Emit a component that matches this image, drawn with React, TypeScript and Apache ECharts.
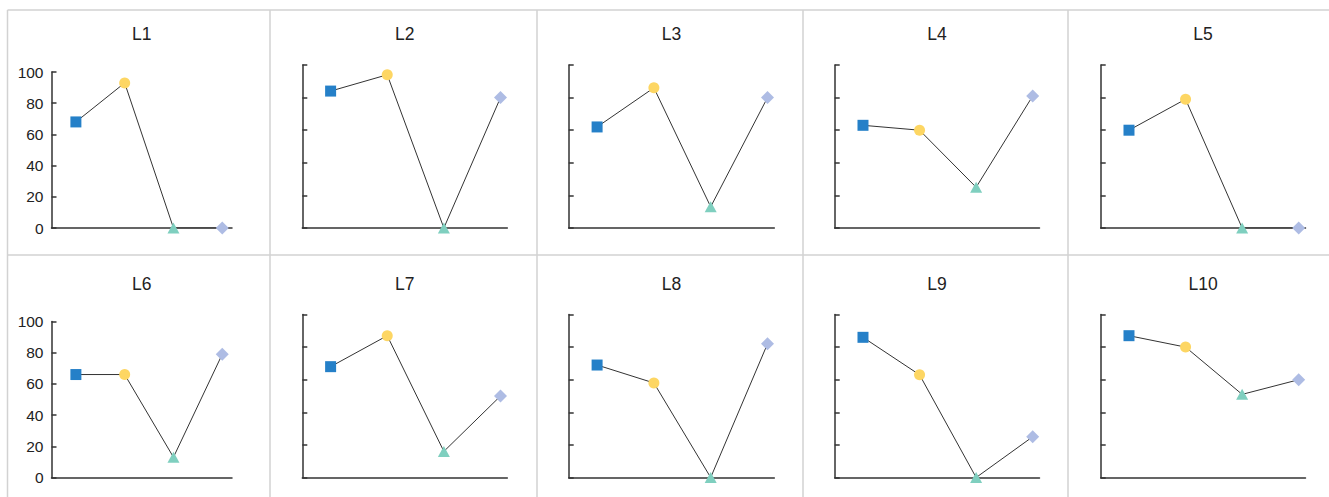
import React, { useEffect, useRef } from "react";
import * as echarts from "echarts";

// ---- data ----
const panelNames = ["L1", "L2", "L3", "L4", "L5", "L6", "L7", "L8", "L9", "L10"];
const categoryIndex = [0, 1, 2, 3];
const L1 = [68, 93, 0, 0];
const L2 = [84, 94, 0, 80];
const L3 = [62, 86, 13, 80];
const L4 = [63, 60, 25, 81];
const L5 = [60, 79, 0, 0];
const L6 = [66, 66, 13, 79];
const L7 = [68, 87, 16, 50];
const L8 = [69, 58, 0, 82];
const L9 = [86, 63, 0, 25];
const L10 = [87, 80, 51, 60];
const panelValues = [L1, L2, L3, L4, L5, L6, L7, L8, L9, L10];
const yTicks = [0, 20, 40, 60, 80, 100];

const markerSymbols = ["rect", "circle", "triangle", "diamond"];
const markerColors = ["#2580c8", "#fdd663", "#7fcfbf", "#aebce4"];
const markerSizes: any[] = [11, 11, [12, 11], 13];

const FONT = "'Liberation Sans', Arial, Helvetica, sans-serif";

// layout (pixels)
const colLeft = [51.5, 302.3, 568.7, 834.7, 1100.7];
const colRight = [232, 507.3, 774.3, 1039.5, 1305.5];
const colXMax = [3.2, 3.12, 3.12, 3.12, 3.12];
const rowOffset = 249.5;
const zeroY = 228;
const topFirstCol = 72;
const topOtherCols = 65;
const sepX = [7.5, 270, 537, 803, 1068];
const sepY = [10, 255];

export default function App() {
  const ref = useRef<HTMLDivElement>(null);
  useEffect(() => {
    if (!ref.current) return;
    const chart = echarts.init(ref.current, null, { renderer: "svg" });
    const grids: any[] = [];
    const xAxes: any[] = [];
    const yAxes: any[] = [];
    const series: any[] = [];
    const titles: any[] = [];
    panelNames.forEach((name, i) => {
      const row = Math.floor(i / 5);
      const col = i % 5;
      const top = (col === 0 ? topFirstCol : topOtherCols) + row * rowOffset;
      const bottom = zeroY + row * rowOffset;
      grids.push({
        left: colLeft[col],
        top,
        width: colRight[col] - colLeft[col],
        height: bottom - top,
        containLabel: false,
      });
      titles.push({
        text: name,
        left: (colLeft[col] + colRight[col]) / 2,
        top: 25 + row * rowOffset,
        textAlign: "center",
        padding: 0,
        textStyle: { fontFamily: FONT, fontSize: 17.5, fontWeight: "normal", color: "#222" },
      });
      xAxes.push({
        gridIndex: i,
        type: "value",
        min: -0.5,
        max: colXMax[col],
        axisLine: { show: true, onZero: false, lineStyle: { color: "#333", width: 1.5 } },
        axisTick: { show: false },
        axisLabel: { show: false },
        splitLine: { show: false },
      });
      yAxes.push({
        gridIndex: i,
        type: "value",
        min: yTicks[0],
        max: yTicks[yTicks.length - 1],
        interval: yTicks[1] - yTicks[0],
        axisLine: { show: true, onZero: false, lineStyle: { color: "#333", width: 1.5 } },
        axisTick: { show: true, inside: true, length: 5, lineStyle: { color: "#333", width: 1.5 } },
        axisLabel: {
          show: col === 0,
          margin: 8,
          fontFamily: FONT,
          fontSize: 15.5,
          color: "#222",
        },
        splitLine: { show: false },
      });
      series.push({
        type: "line",
        xAxisIndex: i,
        yAxisIndex: i,
        lineStyle: { color: "#333", width: 1 },
        showAllSymbol: true,
        data: categoryIndex.map((c) => ({
          value: [c, panelValues[i][c]],
          symbol: markerSymbols[c],
          symbolSize: markerSizes[c],
          itemStyle: { color: markerColors[c], opacity: 1 },
        })),
        z: 3,
      });
    });

    const graphics: any[] = [];
    const lineStyle = { stroke: "#d2d2d2", lineWidth: 1.5 };
    graphics.push({ type: "line", shape: { x1: sepX[0], y1: sepY[0], x2: 1329, y2: sepY[0] }, style: lineStyle, z: -1 });
    graphics.push({ type: "line", shape: { x1: sepX[0], y1: sepY[1], x2: 1329, y2: sepY[1] }, style: lineStyle, z: -1 });
    sepX.forEach((x) => {
      graphics.push({ type: "line", shape: { x1: x, y1: sepY[0], x2: x, y2: 497 }, style: lineStyle, z: -1 });
    });

    chart.setOption({
      animation: false,
      backgroundColor: "#fff",
      title: titles,
      grid: grids,
      xAxis: xAxes,
      yAxis: yAxes,
      series,
      graphic: graphics,
    });
    return () => chart.dispose();
  }, []);
  return (
    <div
      ref={ref}
      style={{ position: "absolute", left: 0, top: 0, width: 1329, height: 497 }}
    />
  );
}
